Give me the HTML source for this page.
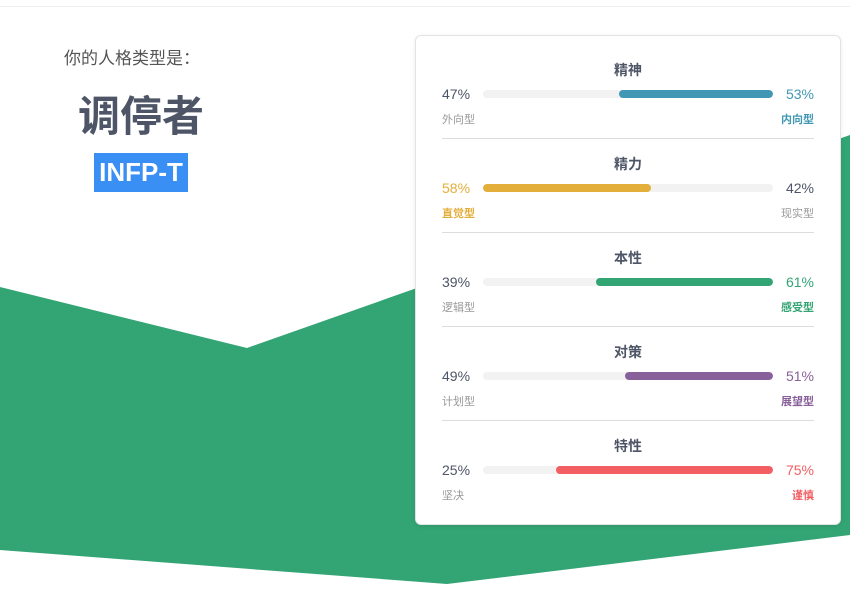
<!DOCTYPE html>
<html><head><meta charset="utf-8"><style>
body{margin:0;width:850px;height:598px;overflow:hidden;background:#fff;font-family:"Liberation Sans","Noto Sans CJK SC",sans-serif;position:relative}
.abs{position:absolute}
#card{left:415px;top:35px;width:424px;height:488px;background:#fff;border:1px solid #e3e3e3;border-radius:6px;box-shadow:0 1px 4px rgba(0,0,0,.08)}
.sec{position:absolute;left:26px;width:372px;height:94px}
.title{position:absolute;left:0;width:100%;text-align:center;top:24px;font-size:14px;font-weight:bold;color:#4d5566}
.lp,.rp{position:absolute;top:50px;font-size:14px;color:#4d5566}
.lp{left:0}.rp{right:0}
.track{position:absolute;left:41px;width:290px;top:54px;height:8px;background:#f2f2f2;border-radius:4px;overflow:hidden}
.fill{position:absolute;top:0;height:8px;border-radius:4px}
.ll,.rl{position:absolute;top:75px;font-size:11px;color:#999}
.ll{left:0}.rl{right:0}
.div{position:absolute;left:0;right:0;top:102px;border-top:1px solid #ddd}
</style></head><body>
<div class="abs" style="left:0;top:6px;width:850px;border-top:1px solid #eee"></div>
<svg class="abs" style="left:0;top:0" width="850" height="598">
<polygon points="0,287 247,348 850,135 850,535 447,584 0,550" fill="#33a474"/>
</svg>
<div class="abs" style="left:64px;top:44px;font-size:17px;color:#555">你的人格类型是：</div>
<div class="abs" style="left:40px;width:202px;text-align:center;top:90px;font-size:42px;font-weight:bold;color:#4d5566;line-height:54px">调停者</div>
<div class="abs" style="left:94px;top:153px;width:94px;height:39px;background:#3a8ff5;color:#fff;font-size:26px;font-weight:bold;line-height:39px;text-align:center">INFP-T</div>
<div id="card" class="abs"></div>
<script>
const titles=["精神","精力","本性","对策","特性"];
const leftVals=[47,58,39,49,25];
const rightVals=[53,42,61,51,75];
const leftLabels=["外向型","直觉型","逻辑型","计划型","坚决"];
const rightLabels=["内向型","现实型","感受型","展望型","谨慎"];
const colors=["#4298b4","#e4ae3a","#33a474","#88619a","#f25e62"];
const card=document.getElementById('card');
for(let i=0;i<titles.length;i++){
 const dominantLeft=leftVals[i]>rightVals[i];
 const s=document.createElement('div');s.className='sec';s.style.top=(i*94)+'px';
 
 
 const c=colors[i];
 const pct=dominantLeft?leftVals[i]:rightVals[i];
 const fillStyle=dominantLeft?`left:0;width:${pct}%`:`right:0;width:${pct}%`;
 s.innerHTML=`<div class="title">${titles[i]}</div>
 <div class="lp" style="${dominantLeft?'color:'+c:''}">${leftVals[i]}%</div>
 <div class="track"><div class="fill" style="${fillStyle};background:${c}"></div></div>
 <div class="rp" style="${!dominantLeft?'color:'+c:''}">${rightVals[i]}%</div>
 <div class="ll" style="${dominantLeft?'color:'+c+';font-weight:bold':''}">${leftLabels[i]}</div>
 <div class="rl" style="${!dominantLeft?'color:'+c+';font-weight:bold':''}">${rightLabels[i]}</div>
 ${i<titles.length-1?'<div class="div"></div>':''}`;
 card.appendChild(s);
}
</script>
</body></html>
